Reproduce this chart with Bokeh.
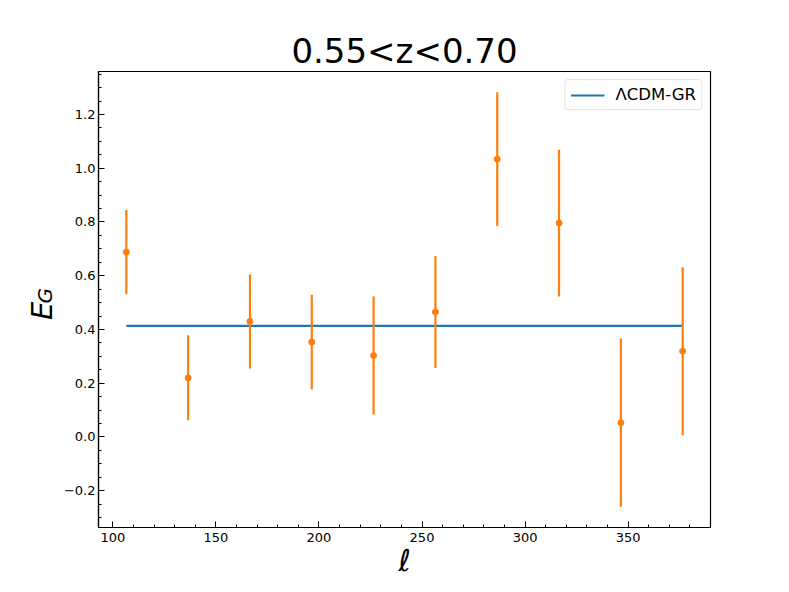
import numpy as np
from bokeh.plotting import figure
from bokeh.layouts import row
from bokeh.models import (Range1d, SingleIntervalTicker, CustomJSTickFormatter,
                          ColumnDataSource)
from bokeh.core.properties import value
from bokeh.embed import file_html
from bokeh.resources import INLINE

# ---- data ----
ell = [106.5, 136.5, 166.5, 196.5, 226.5, 256.5, 286.5, 316.5, 346.5, 376.5]
eg = [0.688, 0.220, 0.430, 0.353, 0.303, 0.465, 1.034, 0.796, 0.053, 0.319]
eg_err = [0.157, 0.158, 0.175, 0.176, 0.220, 0.208, 0.249, 0.273, 0.313, 0.313]
eg_gr = 0.413
title_text = "0.55<z<0.70"
legend_text = "ΛCDM-GR"
ylabel_main, ylabel_sub = "E", "G"
xlabel = "ℓ"

ORANGE = "#ff7f0e"
BLUE = "#1f77b4"
FONT = "DejaVu Sans"

lo = [v - e for v, e in zip(eg, eg_err)]
hi = [v + e for v, e in zip(eg, eg_err)]

xmin, xmax = min(ell), max(ell)
xpad = 0.05 * (xmax - xmin)
ymin, ymax = min(lo), max(hi)
ypad = 0.05 * (ymax - ymin)
x0, x1 = xmin - xpad, xmax + xpad
y0, y1 = ymin - ypad, ymax + ypad

FW, FH = 612, 456
LW = 59                       # width of the strip holding the y label
TOP, BOTTOM, RIGHT = 71, 48, 62
H = TOP + FH + BOTTOM

p = figure(frame_width=FW, frame_height=FH,
           min_border_left=98 - LW, min_border_right=RIGHT,
           min_border_top=TOP, min_border_bottom=BOTTOM,
           x_range=Range1d(x0, x1), y_range=Range1d(y0, y1),
           output_backend="svg", toolbar_location=None,
           background_fill_color="white", border_fill_color="white")

p.title.text = title_text
p.title.text_font = FONT
p.title.text_font_size = "34px"
p.title.text_font_style = "normal"
p.title.text_color = "black"
p.title.align = "center"
p.title.standoff = 2

p.xgrid.visible = False
p.ygrid.visible = False
p.outline_line_color = "black"
p.outline_line_width = 1.2
p.outline_line_alpha = 1.0

for ax in (p.xaxis[0], p.yaxis[0]):
    ax.axis_line_color = "black"
    ax.axis_line_width = 1.2
    ax.major_tick_in = 6
    ax.major_tick_out = 0
    ax.minor_tick_in = 3
    ax.minor_tick_out = 0
    ax.major_tick_line_color = "black"
    ax.minor_tick_line_color = "black"
    ax.major_label_text_font = FONT
    ax.major_label_text_font_size = "13px"
    ax.major_label_text_color = "black"
    ax.major_label_standoff = 5
p.yaxis.major_label_standoff = 3

p.xaxis.ticker = SingleIntervalTicker(interval=50, num_minor_ticks=5)
p.yaxis.ticker = SingleIntervalTicker(interval=0.2, num_minor_ticks=4)
p.yaxis.formatter = CustomJSTickFormatter(code="""
    if (Math.abs(tick) < 1e-9) { return "0.0"; }
    return (tick < 0 ? "\u2212" : "") + Math.abs(tick).toFixed(1);
""")
p.xaxis.formatter = CustomJSTickFormatter(code="return Math.round(tick).toString();")

p.xaxis.axis_label = xlabel
p.xaxis.axis_label_text_font = FONT
p.xaxis.axis_label_text_font_size = "30px"
p.xaxis.axis_label_text_font_style = "italic"
p.xaxis.axis_label_text_color = "black"
p.xaxis.axis_label_standoff = -2

# GR prediction line
p.line([ell[0], ell[-1]], [eg_gr, eg_gr], line_color=BLUE, line_width=2.2,
       legend_label=legend_text)

# error bars + points
src = ColumnDataSource(dict(x=ell, y=eg, lo=lo, hi=hi))
p.segment(x0="x", y0="lo", x1="x", y1="hi", source=src, line_color=ORANGE, line_width=2.2)
p.scatter(x="x", y="y", source=src, size=6, fill_color=ORANGE, line_color=ORANGE)

lg = p.legend[0]
lg.location = "top_right"
lg.margin = 8
lg.padding = 5
lg.spacing = 0
lg.glyph_width = 34
lg.glyph_height = 18
lg.label_height = 18
lg.label_standoff = 11
lg.label_text_font = FONT
lg.label_text_font_size = "16.5px"
lg.label_text_color = "black"
lg.border_line_color = "#cccccc"
lg.border_line_width = 1
lg.border_radius = 4
lg.background_fill_alpha = 0.8

# ---- narrow strip to the left carrying the rotated E_G label ----
lab = figure(width=LW, height=H, x_range=Range1d(0, LW), y_range=Range1d(0, H),
             min_border=0, x_axis_type=None, y_axis_type=None,
             output_backend="svg", toolbar_location=None,
             background_fill_color="white", border_fill_color="white")
lab.outline_line_color = None
lab.xgrid.visible = False
lab.ygrid.visible = False
lab.text(x=[41], y=[H - 305], text=[ylabel_main], angle=np.pi / 2,
         text_font=value(FONT), text_font_size="29px", text_font_style="italic",
         text_align="center", text_baseline="alphabetic", text_color="black")
lab.text(x=[44], y=[H - 286], text=[ylabel_sub], angle=np.pi / 2,
         text_font=value(FONT), text_font_size="20px", text_font_style="italic",
         text_align="center", text_baseline="alphabetic", text_color="black")

layout = row(lab, p, spacing=0)
open("out.html", "w").write(file_html(layout, INLINE))
